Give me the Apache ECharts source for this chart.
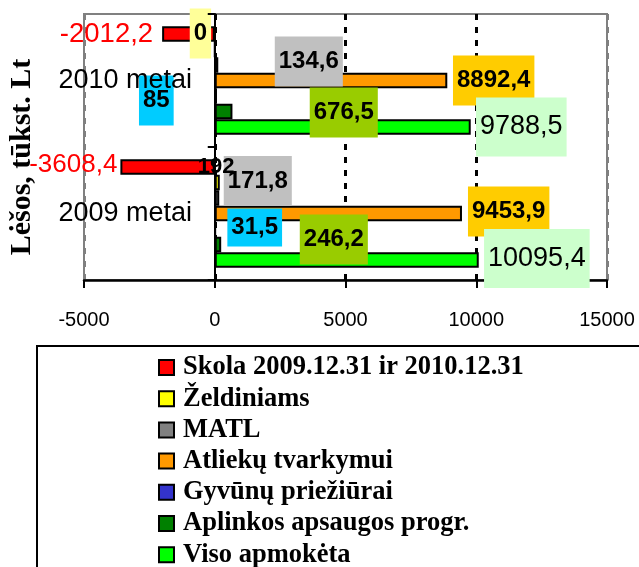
<!DOCTYPE html>
<html>
<head>
<meta charset="utf-8">
<script src="https://cdn.jsdelivr.net/npm/echarts@6/dist/echarts.min.js"></script>
<style>
html, body { margin: 0; padding: 0; background: #fff; }
#chart { width: 639px; height: 567px; }
</style>
</head>
<body>
<div id="chart"></div>
<script>
// data: index 0 = 2009, index 1 = 2010
const categories = ['2009 metai', '2010 metai']
const seriesNames = [
    'Skola 2009.12.31 ir 2010.12.31',
    'Želdiniams',
    'MATL',
    'Atliekų tvarkymui',
    'Gyvūnų priežiūrai',
    'Aplinkos apsaugos progr.',
    'Viso apmokėta'
]
const skola = [-3608.4, -2012.2]
const zeldiniams = [192, 0]
const matl = [171.8, 134.6]
const atliekos = [9453.9, 8892.4]
const gyvunai = [31.5, 85]
const aplinkos = [246.2, 676.5]
const viso = [10095.4, 9788.5]
const xTickValues = [-5000, 0, 5000, 10000, 15000]

const seriesValues = [skola, zeldiniams, matl, atliekos, gyvunai, aplinkos, viso]
const barColors = ['#ff0000', '#ffff00', '#808080', '#ff9900', '#3333cc', '#008000', '#00ff00']

// label look, per series and per category (2009, 2010) - the hand placed boxes of the original
const labelStyles = [
    [{ pos: 'left', off: [-3, -2], color: '#ff0000', size: 26, thin: true }, { pos: 'left', off: [-9, 0], color: '#ff0000', size: 27.5, thin: true }],
    [{ off: [-22, -15.5], size: 22 }, { off: [-26, -16], bg: '#ffff99' }],
    [{ off: [4.5, -17], bg: '#c0c0c0' }, { off: [56.5, -3.5], bg: '#c0c0c0' }],
    [{ off: [6, -2], bg: '#ffcc00' }, { off: [5.7, 0], bg: '#ffcc00' }],
    [{ off: [11.2, -1.5], bg: '#00ccff', pad: [6, 4] }, { off: [-78, 4.5], bg: '#00ccff' }],
    [{ off: [78.6, -5], bg: '#99cc00' }, { off: [77.3, 1], bg: '#99cc00' }],
    [{ off: [5.3, -1.5], bg: '#ccffcc', size: 27, pad: [15, 4], thin: true }, { off: [5.3, 0], bg: '#ccffcc', size: 27, pad: [15, 4], thin: true }]
]

const fmt = (v) => String(v).replace('.', ',')

const chart = echarts.init(document.getElementById('chart'))

const series = seriesNames.map((name, s) => ({
    name: name,
    type: 'bar',
    z: s === 1 ? 3 : 2,
    barGap: '0%',
    barCategoryGap: '18.4%',
    itemStyle: { color: barColors[s], borderColor: '#000', borderWidth: 2 },
    data: seriesValues[s].map((v, c) => {
        const st = labelStyles[s][c]
        return {
            value: v,
            label: {
                show: true,
                position: st.pos || 'right',
                distance: 0,
                offset: st.off,
                formatter: fmt(v),
                fontFamily: 'Liberation Sans',
                fontWeight: st.thin ? 'normal' : 'bold',
                fontSize: st.size || 24,
                lineHeight: (st.size || 24) + 2,
                color: st.color || '#000',
                backgroundColor: st.bg || 'transparent',
                padding: st.bg ? (st.pad || [12, 4]) : 0
            }
        }
    })
}))

chart.setOption({
    animation: false,
    grid: {
        left: 84,
        right: 32,
        top: 14,
        bottom: 287,
        containLabel: false,
        outerBoundsMode: 'none',
        show: true,
        borderColor: '#808080',
        borderWidth: 2
    },
    xAxis: {
        type: 'value',
        min: xTickValues[0],
        max: xTickValues[xTickValues.length - 1],
        interval: 5000,
        axisLine: { show: true, lineStyle: { color: '#000', width: 2.5 } },
        axisTick: { show: true, length: 8, lineStyle: { color: '#000', width: 2 } },
        axisLabel: {
            margin: 30,
            color: '#000',
            fontFamily: 'Liberation Sans',
            fontSize: 20,
            formatter: (v) => String(v)
        },
        splitLine: {
            show: true,
            lineStyle: {
                color: ['#808080', '#000', '#000', '#000', '#808080'],
                width: 3,
                type: [6, 7]
            }
        }
    },
    yAxis: {
        type: 'category',
        data: categories,
        z: 10,
        axisLine: { show: true, onZero: true, lineStyle: { color: '#000', width: 2 } },
        axisTick: { show: true, length: 7, lineStyle: { color: '#000', width: 2 } },
        axisLabel: {
            // labels sit next to the zero line, not at the grid edge
            margin: -108,
            color: '#000',
            fontFamily: 'Liberation Sans',
            fontSize: 27
        }
    },
    legend: {
        orient: 'vertical',
        left: 37,
        top: 346,
        height: 240,
        padding: [8, 300, 0, 121],
        borderColor: '#000',
        borderWidth: 2,
        itemGap: 4.2,
        itemWidth: 15,
        itemHeight: 15,
        icon: 'rect',
        data: seriesNames,
        textStyle: {
            fontFamily: 'Liberation Serif',
            fontWeight: 'bold',
            fontSize: 26.5,
            lineHeight: 26,
            color: '#000',
            padding: [0, 0, 0, 4]
        }
    },
    graphic: [{
        type: 'text',
        z: 0,
        x: 22,
        y: 157,
        rotation: Math.PI / 2,
        style: {
            text: 'Lėšos, tūkst. Lt',
            fontFamily: 'Liberation Serif',
            fontWeight: 'bold',
            fontSize: 30,
            fill: '#000',
            align: 'center',
            verticalAlign: 'middle'
        }
    }],
    series: series
})
</script>
</body>
</html>
